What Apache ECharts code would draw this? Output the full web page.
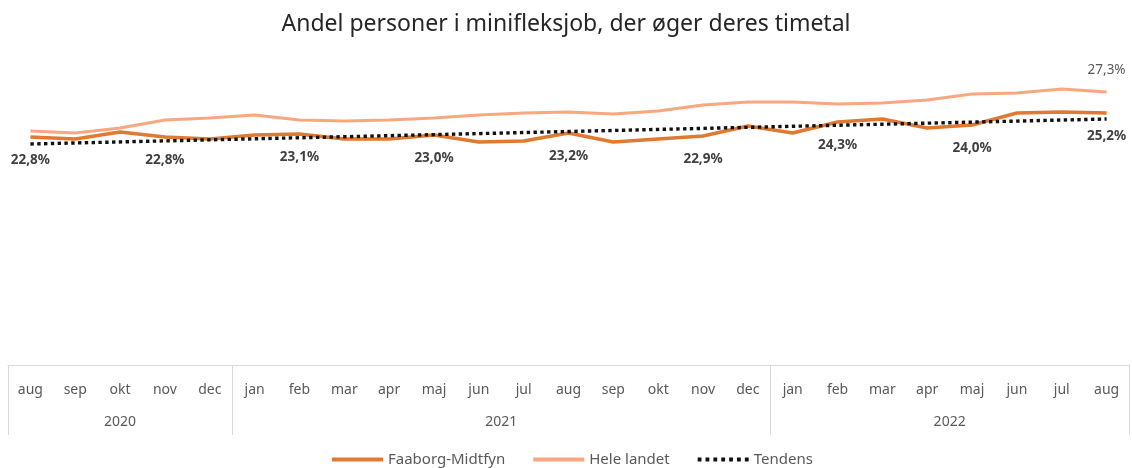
<!DOCTYPE html>
<html><head><meta charset="utf-8">
<script src="https://cdn.jsdelivr.net/npm/echarts@6/dist/echarts.min.js"></script>
<style>html,body{margin:0;padding:0;background:#fff}#c{width:1132px;height:468px}</style>
</head><body><div id="c"></div>
<script>
const months = ['aug','sep','okt','nov','dec','jan','feb','mar','apr','maj','jun','jul','aug','sep','okt','nov','dec','jan','feb','mar','apr','maj','jun','jul','aug'];
const years = ['2020','2021','2022'];
const monthsPerYear = [5, 12, 8];
const faaborg = [22.8,22.6,23.3,22.8,22.6,23.0,23.1,22.6,22.6,23.0,22.3,22.4,23.2,22.3,22.6,22.9,23.9,23.2,24.3,24.6,23.7,24.0,25.2,25.3,25.2];
const heleLandet = [23.4,23.2,23.7,24.5,24.7,25.0,24.5,24.4,24.5,24.7,25.0,25.2,25.3,25.1,25.4,26.0,26.3,26.3,26.1,26.2,26.5,27.1,27.2,27.6,27.3];
const tendensEnds = [22.1, 24.6];
const faaborgLabelIdx = [0,3,6,9,12,15,18,21,24];
const heleLabelIdx = [24];

const FONT = 'Noto Sans';
const fmt = v => v.toFixed(1).replace('.', ',') + '%';
const yearCenters = []; const boundaries = [0];
let acc = 0;
monthsPerYear.forEach(n => { yearCenters.push(acc + n / 2); acc += n; boundaries.push(acc); });
const total = acc;

const faaborgData = faaborg.map((v, i) => faaborgLabelIdx.includes(i) ? {value: v, label: {show: true}} : v);
const heleData = heleLandet.map((v, i) => heleLabelIdx.includes(i) ? {value: v, label: {show: true}} : v);
const tendensData = months.map((m, i) => i === 0 ? tendensEnds[0] : (i === months.length - 1 ? tendensEnds[1] : null));

const lineIcon = 'path://M0,0H50V4H0Z';
let dots = '';
for (let k = 0; k < 7; k++) dots += 'M' + (k * 7) + ',0h3.4v3.4h-3.4z';
const dotIcon = 'path://' + dots;

const chart = echarts.init(document.getElementById('c'));
chart.setOption({
  animation: false,
  title: {
    text: 'Andel personer i minifleksjob, der øger deres timetal',
    left: 'center', top: 8,
    textStyle: {fontFamily: FONT, fontSize: 23, fontWeight: 'normal', color: '#262626'}
  },
  grid: {left: 8, right: 2, top: 65, bottom: 103},
  xAxis: [{
    type: 'category', data: months, boundaryGap: true,
    axisLine: {show: true, lineStyle: {color: '#d9d9d9', width: 1}},
    axisTick: {show: true, length: 70, lineStyle: {color: '#d9d9d9'},
      interval: (idx) => boundaries.includes(idx)},
    axisLabel: {interval: 0, margin: 18, fontFamily: FONT, fontSize: 14, color: '#595959'}
  }, {
    type: 'value', min: 0, max: total, interval: 0.5, position: 'bottom',
    axisLine: {show: false}, axisTick: {show: false}, splitLine: {show: false},
    axisLabel: {margin: 50, fontFamily: FONT, fontSize: 14, color: '#595959', showMinLabel: true, showMaxLabel: true,
      formatter: v => { const k = yearCenters.indexOf(v); return k >= 0 ? years[k] : ''; }}
  }],
  yAxis: {type: 'value', min: 0, max: 30, show: false, splitLine: {show: false}},
  legend: {
    top: 447, left: 327, itemWidth: 51, itemHeight: 14, itemGap: 28,
    textStyle: {fontFamily: FONT, fontSize: 15, color: '#595959'},
    data: [
      {name: 'Faaborg-Midtfyn', icon: lineIcon},
      {name: 'Hele landet', icon: lineIcon},
      {name: 'Tendens', icon: dotIcon}
    ]
  },
  series: [{
    name: 'Faaborg-Midtfyn', type: 'line', data: faaborgData,
    symbol: 'circle', symbolSize: 0.01, showSymbol: true, showAllSymbol: true,
    lineStyle: {color: '#E07A30', width: 3.5}, itemStyle: {color: '#E07A30'},
    label: {show: false, position: 'bottom', distance: 16, formatter: p => fmt(p.value),
      fontFamily: FONT, fontSize: 13.5, fontWeight: 'bold', color: '#404040'}, z: 3
  }, {
    name: 'Hele landet', type: 'line', data: heleData,
    symbol: 'circle', symbolSize: 0.01, showSymbol: true, showAllSymbol: true,
    lineStyle: {color: '#F9A77E', width: 3}, itemStyle: {color: '#F9A77E'},
    label: {show: false, position: 'top', distance: 15, formatter: p => fmt(p.value),
      fontFamily: FONT, fontSize: 13.5, color: '#595959'}, z: 2
  }, {
    name: 'Tendens', type: 'line', data: tendensData, connectNulls: true, symbol: 'none',
    lineStyle: {color: '#111', width: 3.4, type: [3.4, 3.4]}, itemStyle: {color: '#111'}, z: 4
  }]
});
</script></body></html>
